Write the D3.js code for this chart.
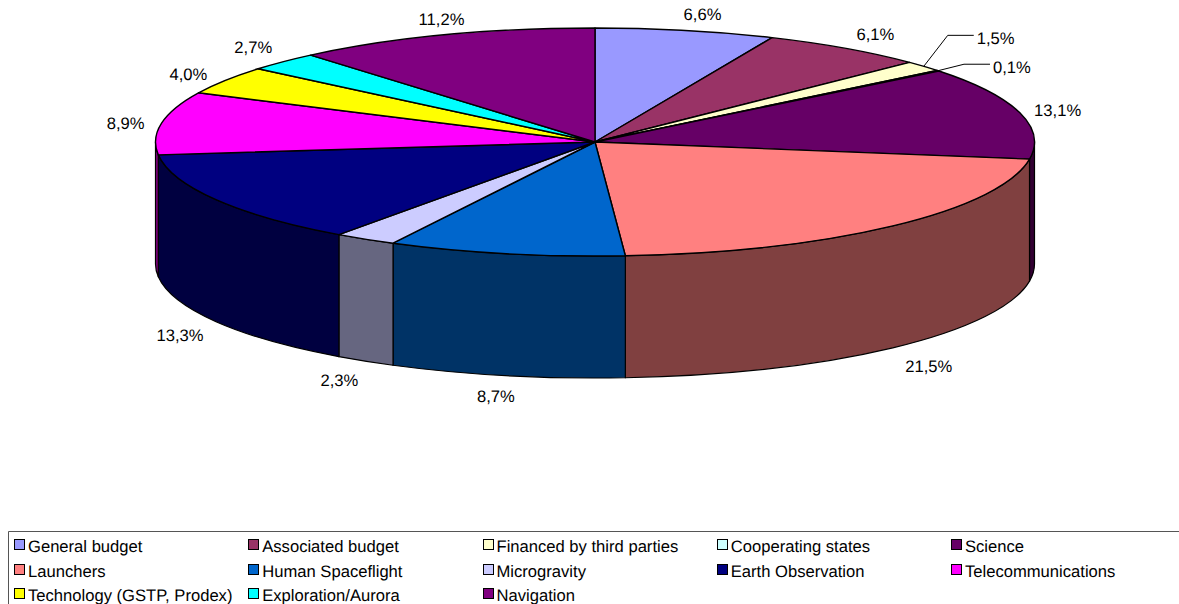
<!DOCTYPE html>
<html>
<head>
<meta charset="utf-8">
<script src="https://cdn.jsdelivr.net/npm/d3@7"></script>
<style>
html,body{margin:0;padding:0;background:#fff;overflow:hidden}
svg{display:block}
text{font-family:"Liberation Sans",Arial,sans-serif;font-size:16.6px;fill:#000;text-rendering:geometricPrecision}
</style>
</head>
<body>
<svg id="chart" width="1179" height="604"></svg>
<script>
const categories = ["General budget","Associated budget","Financed by third parties","Cooperating states","Science","Launchers","Human Spaceflight","Microgravity","Earth Observation","Telecommunications","Technology (GSTP, Prodex)","Exploration/Aurora","Navigation"];
const values = [6.6,6.1,1.5,0.1,13.1,21.5,8.7,2.3,13.3,8.9,4.0,2.7,11.2];
const colors = ["#9999FF","#993366","#FFFFCC","#CCFFFF","#660066","#FF8080","#0066CC","#CCCCFF","#000080","#FF00FF","#FFFF00","#00FFFF","#800080"];

// label layout, offset in px from the slice's rim point
const labelOffsets = [[17,-16],[30,-14],null,null,[38,-3],[36,18],[-10,20],[-26,19],[-36,13],[-36,0],[-37,-6],[-30,-15],[-2,-16]];
// callout labels: [elbow dx, elbow dy, end dx]
const leaders = {2:[24,-31,26],3:[26,-6.5,26]};

const cx=595, cy=142, rx=439.5, ry=114, depth=122;
const svg=d3.select("#chart");
const pie=d3.pie().sort(null).value(d=>d)(values);
const px=a=>cx+rx*Math.sin(a), py=a=>cy-ry*Math.cos(a);
const fmt=v=>v.toFixed(1).replace(".",",")+"%";
const PI=Math.PI;
const shade=c=>{const r=d3.rgb(c);return d3.rgb(r.r/2,r.g/2,r.b/2).formatHex();};

// side walls
const walls=svg.append("g");
pie.forEach((p,i)=>{
  const a0=Math.max(p.startAngle,PI/2), a1=Math.min(p.endAngle,3*PI/2);
  if(a1<=a0) return;
  const large=(a1-a0)>PI?1:0;
  const d=`M${px(a0)},${py(a0)}A${rx},${ry} 0 ${large} 1 ${px(a1)},${py(a1)}L${px(a1)},${py(a1)+depth}A${rx},${ry} 0 ${large} 0 ${px(a0)},${py(a0)+depth}Z`;
  walls.append("path").attr("d",d).attr("fill",shade(colors[i]))
    .attr("stroke","#000").attr("stroke-width",1.2).attr("stroke-linejoin","round");
});

// top slices
const tops=svg.append("g");
pie.forEach((p,i)=>{
  const a0=p.startAngle,a1=p.endAngle,large=(a1-a0)>PI?1:0;
  tops.append("path")
    .attr("d",`M${cx},${cy}L${px(a0)},${py(a0)}A${rx},${ry} 0 ${large} 1 ${px(a1)},${py(a1)}Z`)
    .attr("fill",colors[i]).attr("stroke","#000").attr("stroke-width",1.4).attr("stroke-linejoin","round");
});

// data labels
const labels=svg.append("g");
pie.forEach((p,i)=>{
  const m=(p.startAngle+p.endAngle)/2;
  const front=Math.cos(m)<-0.3;
  const ax=px(m), ay=py(m)+(front?depth:0);
  if(leaders[i]){
    const [dx,dy,ex]=leaders[i];
    labels.append("path").attr("d",`M${ax},${ay}L${ax+dx},${ay+dy}L${ax+dx+ex},${ay+dy}`)
      .attr("fill","none").attr("stroke","#000").attr("stroke-width",1);
    labels.append("text").attr("x",ax+dx+ex+3).attr("y",ay+dy+8.5).text(fmt(values[i]));
  } else {
    const [ox,oy]=labelOffsets[i];
    labels.append("text").attr("x",ax+ox).attr("y",ay+oy+6).attr("text-anchor","middle").text(fmt(values[i]));
  }
});

// legend
const legend=svg.append("g");
legend.append("path").attr("d","M1179,531.5H8.5V604").attr("fill","none").attr("stroke","#555").attr("stroke-width",1);
const colX=d3.scaleLinear().domain([0,4]).range([14,951]);
const rowY=d3.scaleLinear().domain([0,2]).range([546,595]);
categories.forEach((c,i)=>{
  const col=i%5,row=Math.floor(i/5),x=colX(col),y=rowY(row);
  legend.append("rect").attr("x",Math.round(x)+.5).attr("y",Math.round(y-7)+.5).attr("width",10).attr("height",10)
    .attr("fill",colors[i]).attr("stroke","#000").attr("stroke-width",1);
  legend.append("text").attr("x",x+14).attr("y",y+6).text(c);
});
</script>
</body>
</html>
